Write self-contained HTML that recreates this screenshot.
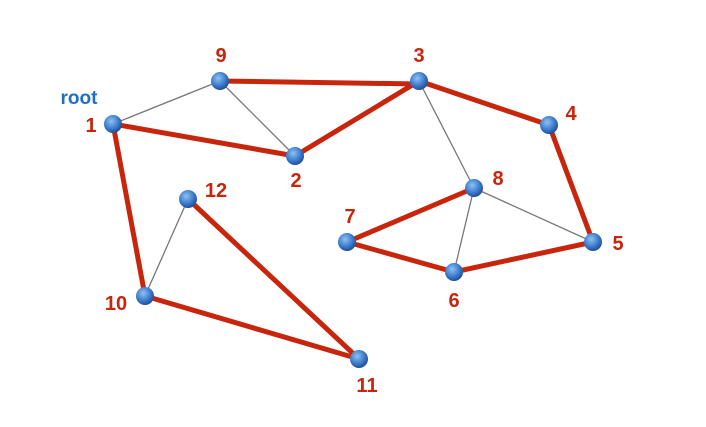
<!DOCTYPE html>
<html><head><style>body{margin:0;background:#fff}svg{display:block}</style></head><body>
<svg width="706" height="427" viewBox="0 0 706 427" xmlns="http://www.w3.org/2000/svg">
<defs><radialGradient id="g" cx="0.4" cy="0.35" r="0.65"><stop offset="0" stop-color="#8fc0f0"/><stop offset="0.6" stop-color="#3f7fcf"/><stop offset="1" stop-color="#1f4f9a"/></radialGradient></defs>
<g stroke="#777" stroke-width="1.3">
<line x1="113" y1="124" x2="220" y2="81"/><line x1="220" y1="81" x2="295" y2="156"/>
<line x1="419" y1="81" x2="474" y2="188"/><line x1="474" y1="188" x2="593" y2="242"/>
<line x1="474" y1="188" x2="454" y2="272"/><line x1="188" y1="199" x2="145" y2="296"/>
<line x1="419" y1="81" x2="549" y2="125"/>
</g>
<g stroke="#c8260c" stroke-width="5" stroke-linecap="round">
<line x1="113" y1="124" x2="295" y2="156"/><line x1="295" y1="156" x2="419" y2="81"/>
<line x1="220" y1="81" x2="419" y2="84"/><line x1="419" y1="81" x2="549" y2="125"/>
<line x1="549" y1="125" x2="593" y2="242"/><line x1="593" y1="242" x2="454" y2="272"/>
<line x1="454" y1="272" x2="347" y2="242"/><line x1="347" y1="242" x2="474" y2="188"/>
<line x1="113" y1="124" x2="145" y2="296"/><line x1="145" y1="296" x2="359" y2="359"/>
<line x1="359" y1="359" x2="188" y2="199"/>
</g>
<g fill="url(#g)">
<circle cx="113" cy="124" r="9"/><circle cx="220" cy="81" r="9"/><circle cx="419" cy="81" r="9"/>
<circle cx="549" cy="125" r="9"/><circle cx="295" cy="156" r="9"/><circle cx="474" cy="188" r="9"/>
<circle cx="347" cy="242" r="9"/><circle cx="454" cy="272" r="9"/><circle cx="593" cy="242" r="9"/>
<circle cx="188" cy="199" r="9"/><circle cx="145" cy="296" r="9"/><circle cx="359" cy="359" r="9"/>
</g>
<g font-family="Liberation Sans, sans-serif" font-weight="bold" font-size="20" fill="#c8260c" text-anchor="middle">
<text x="221" y="62">9</text><text x="419" y="62">3</text><text x="91" y="132">1</text>
<text x="571" y="120">4</text><text x="296" y="187">2</text><text x="498" y="185">8</text>
<text x="350" y="223">7</text><text x="618" y="250">5</text><text x="454" y="307">6</text>
<text x="216" y="197">12</text><text x="116" y="310">10</text><text x="367" y="392">11</text>
</g>
<text x="79" y="104" font-family="Liberation Sans, sans-serif" font-weight="bold" font-size="19" fill="#1f6fc8" text-anchor="middle">root</text>
</svg>
</body></html>
